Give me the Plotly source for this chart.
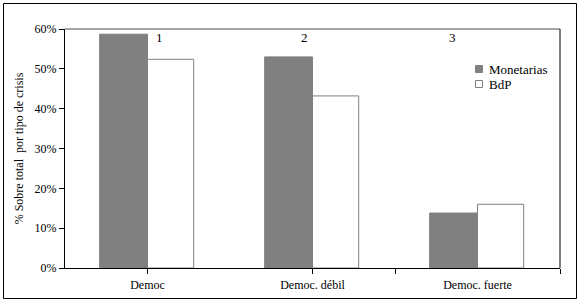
import plotly.graph_objects as go

categories = ["Democ", "Democ. débil", "Democ. fuerte"]
monetarias = [0.587, 0.530, 0.138]
bdp = [0.524, 0.432, 0.160]
series_names = ["Monetarias", "BdP"]
series_fill = ["#808080", "white"]
group_labels = ["1", "2", "3"]
y_ticks = [0, 0.1, 0.2, 0.3, 0.4, 0.5, 0.6]
y_ticktext = ["0%", "10%", "20%", "30%", "40%", "50%", "60%"]

W, H = 579, 304
L, R, T, B = 65, 19, 29, 36
pw, ph = W - L - R, H - T - B

xpos = list(range(len(categories)))
FAM = "Liberation Serif"
font = dict(family=FAM, size=12, color="black")

fig = go.Figure()
fig.add_trace(go.Bar(x=xpos, y=monetarias, name=series_names[0],
                     marker=dict(color=series_fill[0], line=dict(color="#808080", width=1)),
                     width=0.29, offset=-0.29, showlegend=False))
fig.add_trace(go.Bar(x=xpos, y=bdp, name=series_names[1],
                     marker=dict(color=series_fill[1], line=dict(color="#808080", width=1)),
                     width=0.28, offset=0.0, showlegend=False))

def px2x(p):
    return (p - L) / pw
def px2y(p):
    return (H - B - p) / ph

shapes = [
    dict(type="line", xref="paper", yref="paper", x0=0, x1=1, y0=1, y1=1,
         line=dict(color="#a6a6a6", width=2)),
    dict(type="line", xref="paper", yref="paper", x0=1, x1=1, y0=0, y1=1,
         line=dict(color="black", width=1)),
    dict(type="rect", xref="paper", yref="paper", x0=px2x(3.5), x1=px2x(576.5),
         y0=px2y(298.5), y1=px2y(3.5), line=dict(color="black", width=1)),
]

annotations = []
label_offsets = [0.07, -0.05, -0.15]
for i, (lab, off) in enumerate(zip(group_labels, label_offsets)):
    annotations.append(dict(x=xpos[i] + off, y=0.6, yref="y", xref="x", text=lab,
                            showarrow=False, yanchor="top", yshift=1,
                            font=dict(family=FAM, size=13, color="black")))

# manual legend (small squares like the original)
leg_rows = [69, 84]
for name, fill, yc in zip(series_names, series_fill, leg_rows):
    shapes.append(dict(type="rect", xref="paper", yref="paper",
                       x0=px2x(475.5), x1=px2x(482.5), y0=px2y(yc + 3.5), y1=px2y(yc - 3.5),
                       fillcolor=fill, line=dict(color="#808080", width=1)))
    annotations.append(dict(x=px2x(487), y=px2y(yc), xref="paper", yref="paper",
                            text=name, showarrow=False, xanchor="left", yanchor="middle",
                            font=dict(family=FAM, size=13, color="black")))

fig.update_layout(
    width=W, height=H,
    margin=dict(l=L, r=R, t=T, b=B),
    paper_bgcolor="white", plot_bgcolor="white",
    font=font,
    barmode="overlay",
    showlegend=False,
    xaxis=dict(range=[-0.5, 2.5], tickvals=[0, 1, 1.5, 2.5], ticktext=["", "", "", ""],
               ticks="outside", ticklen=5, tickcolor="black", showline=True,
               linecolor="black", linewidth=1, showgrid=False, zeroline=False),
    xaxis2=dict(range=[-0.5, 2.5], overlaying="x", side="bottom", tickvals=xpos,
                ticktext=categories, ticks="", showline=False, showgrid=False,
                zeroline=False, anchor="y", ticklabelstandoff=8,
                tickfont=dict(family=FAM, size=12, color="black")),
    yaxis=dict(range=[0, 0.6], tickvals=y_ticks, ticktext=y_ticktext,
               ticks="outside", ticklen=5, tickcolor="black", showline=True,
               linecolor="black", linewidth=1, showgrid=False, zeroline=False,
               tickfont=dict(family=FAM, size=12, color="black"),
               title=dict(text="% Sobre total  por tipo de crisis", standoff=8,
                          font=dict(family=FAM, size=12, color="black"))),
    shapes=shapes,
    annotations=annotations,
)
fig.add_trace(go.Scatter(x=xpos, y=[None]*len(xpos), xaxis="x2", showlegend=False,
                         hoverinfo="skip"))

fig.write_html("out.html", config={"displayModeBar": False},
               post_script="document.body.style.margin='0';document.body.style.padding='0';")
